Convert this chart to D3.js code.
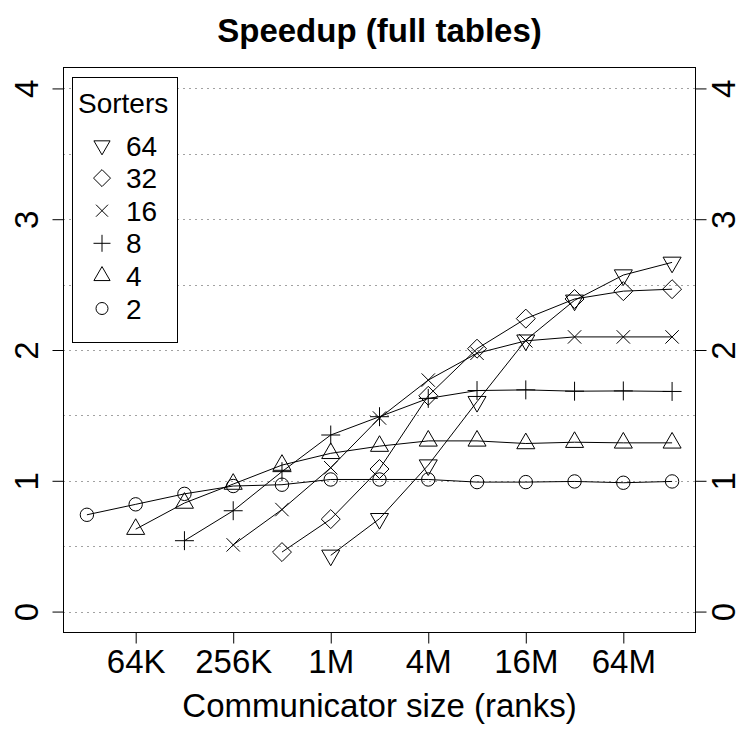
<!DOCTYPE html>
<html>
<head>
<meta charset="utf-8">
<script src="https://cdn.jsdelivr.net/npm/d3@7/dist/d3.min.js"></script>
<style>
  html, body { margin: 0; padding: 0; background: #fff; }
  svg { display: block; font-family: "Liberation Sans", Arial, sans-serif; }
</style>
</head>
<body>
<div id="chart"></div>
<script>
// communicator sizes (ranks), one point per power of two
const ranks = [32768, 65536, 131072, 262144, 524288, 1048576, 2097152,
               4194304, 8388608, 16777216, 33554432, 67108864, 134217728];
const xTicks = [65536, 262144, 1048576, 4194304, 16777216, 67108864];
const xTickLabels = ['64K', '256K', '1M', '4M', '16M', '64M'];
const yTicks = [0, 1, 2, 3, 4];
const yGrid = [0, 0.5, 1, 1.5, 2, 2.5, 3, 3.5, 4];

// speedup per number of sorters (null = not measured)
const sp2  = [0.74, 0.82, 0.90, 0.96, 0.97, 1.01, 1.01, 1.01, 0.99, 0.99, 0.995, 0.985, 0.995];
const sp4  = [null, 0.63, 0.83, 0.975, 1.12, 1.21, 1.265, 1.305, 1.305, 1.285, 1.295, 1.29, 1.29];
const sp8  = [null, null, 0.542, 0.771, 1.07, 1.35, 1.49, 1.63, 1.69, 1.695, 1.685, 1.687, 1.683];
const sp16 = [null, null, null, 0.51, 0.78, 1.10, 1.48, 1.77, 1.975, 2.07, 2.10, 2.10, 2.10];
const sp32 = [null, null, null, null, 0.455, 0.707, 1.09, 1.65, 2.01, 2.24, 2.39, 2.45, 2.465];
const sp64 = [null, null, null, null, null, 0.43, 0.71, 1.12, 1.605, 2.075, 2.38, 2.573, 2.67];

const sorters = ['64', '32', '16', '8', '4', '2'];
const seriesList = [sp64, sp32, sp16, sp8, sp4, sp2];
const symbols = ['tridown', 'diamond', 'cross', 'plus', 'triup', 'circle'];

const W = 738, H = 730;
const box = { left: 63.5, right: 695.5, top: 67.5, bottom: 632.5 };
const RAD = 6.7; // R's symbol radius in px

const svg = d3.select('#chart').append('svg')
    .attr('width', W).attr('height', H);

// R-style 4% axis expansion
const lx = d3.extent(ranks).map(v => Math.log2(v));
const padX = (lx[1] - lx[0]) * 0.04;
const x = d3.scaleLog().base(2)
    .domain([Math.pow(2, lx[0] - padX), Math.pow(2, lx[1] + padX)])
    .range([box.left, box.right]);
const y = d3.scaleLinear()
    .domain([-0.16, 4.16])
    .range([box.bottom, box.top]);

function symbolPath(type, r) {
    const p = d3.path();
    if (type === 'circle') {
        p.moveTo(r, 0); p.arc(0, 0, r, 0, 2 * Math.PI);
    } else if (type === 'triup' || type === 'tridown') {
        const s = type === 'triup' ? 1 : -1;
        const rr = 1.5551 * r, xc = 1.3468 * r, yc = 0.7776 * r;
        p.moveTo(0, -s * rr); p.lineTo(xc, s * yc); p.lineTo(-xc, s * yc); p.closePath();
    } else if (type === 'diamond') {
        const d = Math.SQRT2 * r;
        p.moveTo(0, -d); p.lineTo(d, 0); p.lineTo(0, d); p.lineTo(-d, 0); p.closePath();
    } else if (type === 'plus') {
        const d = Math.SQRT2 * r;
        p.moveTo(-d, 0); p.lineTo(d, 0); p.moveTo(0, -d); p.lineTo(0, d);
    } else if (type === 'cross') {
        p.moveTo(-r, -r); p.lineTo(r, r); p.moveTo(-r, r); p.lineTo(r, -r);
    }
    return p.toString();
}

// dotted grid
svg.append('g').selectAll('line').data(yGrid).join('line')
    .attr('x1', box.left).attr('x2', box.right)
    .attr('y1', d => Math.round(y(d)) + 0.5).attr('y2', d => Math.round(y(d)) + 0.5)
    .attr('stroke', '#444').attr('stroke-width', 1)
    .attr('stroke-dasharray', '1,5');

// plot frame
svg.append('rect')
    .attr('x', box.left).attr('y', box.top)
    .attr('width', box.right - box.left).attr('height', box.bottom - box.top)
    .attr('fill', 'none').attr('stroke', '#000').attr('stroke-width', 1);

// bottom axis
const xAxis = d3.axisBottom(x).tickValues(xTicks)
    .tickFormat((d, i) => xTickLabels[i]).tickSize(11).tickPadding(6);
const gx = svg.append('g').attr('transform', `translate(0,${box.bottom})`).call(xAxis);
gx.select('.domain').remove();
gx.selectAll('text').attr('font-size', 33).attr('font-family', null)
    .attr('dy', null).attr('y', 40).attr('fill', '#000');

// left and right axes with rotated labels
const yLeft = d3.axisLeft(y).tickValues(yTicks).tickFormat(d3.format('d')).tickSize(11);
const gl = svg.append('g').attr('transform', `translate(${box.left},0)`).call(yLeft);
gl.select('.domain').remove();
gl.selectAll('text').attr('font-size', 33).attr('font-family', null)
    .attr('x', null).attr('dy', null).attr('text-anchor', 'middle').attr('fill', '#000')
    .attr('transform', 'translate(-25.5,0) rotate(-90)');

const yRight = d3.axisRight(y).tickValues(yTicks).tickFormat(d3.format('d')).tickSize(11);
const gr = svg.append('g').attr('transform', `translate(${box.right},0)`).call(yRight);
gr.select('.domain').remove();
gr.selectAll('text').attr('font-size', 33).attr('font-family', null)
    .attr('x', null).attr('dy', null).attr('text-anchor', 'middle').attr('fill', '#000')
    .attr('transform', 'translate(39.5,0) rotate(-90)');

svg.selectAll('.tick line').attr('stroke', '#000');

// series lines and symbols
const line = d3.line()
    .defined(d => d.v !== null)
    .x(d => x(d.r)).y(d => y(d.v));

seriesList.forEach((vals, si) => {
    const pts = ranks.map((r, i) => ({ r, v: vals[i] }));
    svg.append('path')
        .attr('d', line(pts))
        .attr('fill', 'none').attr('stroke', '#000').attr('stroke-width', 1);
    svg.append('g').selectAll('path')
        .data(pts.filter(d => d.v !== null)).join('path')
        .attr('transform', d => `translate(${x(d.r)},${y(d.v)})`)
        .attr('d', symbolPath(symbols[si], RAD))
        .attr('fill', 'none').attr('stroke', '#000').attr('stroke-width', 1);
});

// legend
const leg = svg.append('g');
leg.append('rect')
    .attr('x', 72.5).attr('y', 77.5).attr('width', 105).attr('height', 265)
    .attr('fill', '#fff').attr('stroke', '#000').attr('stroke-width', 1);
leg.append('text').attr('x', 78).attr('y', 113)
    .attr('font-size', 28).text('Sorters');
sorters.forEach((s, i) => {
    const cy = 145.5 + i * 32.6;
    leg.append('path')
        .attr('transform', `translate(102,${cy})`)
        .attr('d', symbolPath(symbols[i], 6))
        .attr('fill', 'none').attr('stroke', '#000').attr('stroke-width', 1);
    leg.append('text').attr('x', 126).attr('y', cy + 10)
        .attr('font-size', 28).text(s);
});

// titles
svg.append('text').attr('x', (box.left + box.right) / 2).attr('y', 42)
    .attr('text-anchor', 'middle').attr('font-size', 33).attr('font-weight', 'bold')
    .text('Speedup (full tables)');
svg.append('text').attr('x', (box.left + box.right) / 2).attr('y', 717)
    .attr('text-anchor', 'middle').attr('font-size', 33)
    .text('Communicator size (ranks)');
</script>
</body>
</html>
